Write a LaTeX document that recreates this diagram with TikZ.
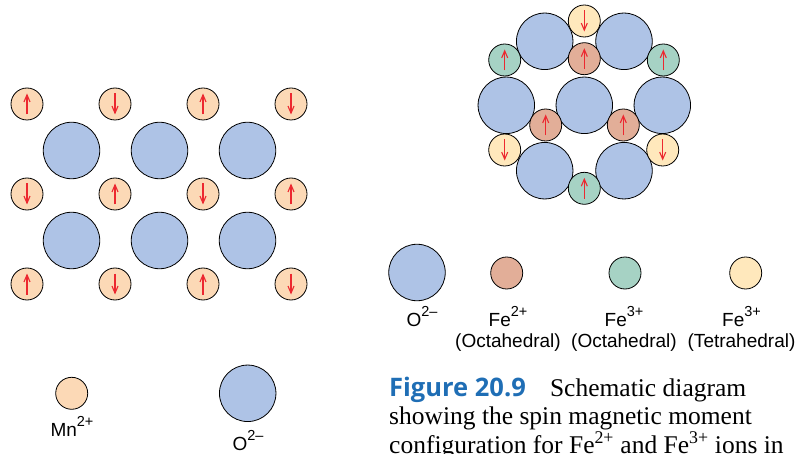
\documentclass[tikz,border=0pt]{standalone}
\usepackage{fontspec}
\setmainfont{Liberation Serif}
\setsansfont{Liberation Sans}
\newfontfamily\figfont{Open Sans}
\usetikzlibrary{arrows.meta,calc}
\definecolor{cox}{HTML}{AEC3E6}
\definecolor{cmn}{HTML}{FCD9B6}
\definecolor{cfeii}{HTML}{E2AE98}
\definecolor{cfeo}{HTML}{A6D2C4}
\definecolor{cfet}{HTML}{FFE8BC}
\definecolor{cspin}{HTML}{EC2830}
\definecolor{cfig}{HTML}{1F6EB5}
\newcommand\chg[1]{\raisebox{9.5pt}{\fontsize{14.5}{14.5}\selectfont #1}}

\begin{document}
\begin{tikzpicture}[x=1pt, y=-1pt,
  ion/.style={circle, draw=black, line width=0.8pt, inner sep=0pt},
  oxy/.style={ion, fill=cox, minimum size=56.5pt},
  mn/.style={ion, fill=cmn, minimum size=32pt},
  feii/.style={ion, fill=cfeii, minimum size=32pt},
  feo/.style={ion, fill=cfeo, minimum size=32pt},
  fet/.style={ion, fill=cfet, minimum size=32pt},
  spin/.style={-{Straight Barb[length=7pt, width=6pt]}, cspin, line width=1.1pt},
  lbl/.style={font=\sffamily\fontsize{19}{21}\selectfont, inner sep=0pt, align=center, anchor=base},
  captext/.style={font=\fontsize{25.5}{28}\selectfont, inner sep=0pt, anchor=base west}
]
\useasboundingbox (0,0) rectangle (797,454);
% MnO lattice
\foreach \i in {0,...,2} \foreach \j in {0,1}
  \node[oxy] (o-\i-\j) at ({71.5+88*\i},{150.5+90*\j}) {};
\foreach \i in {0,...,3} \foreach \j in {0,1,2} {
  \node[mn] (mn-\i-\j) at ({27+88*\i},{104+90*\j}) {};
  \pgfmathsetmacro\spn{1-2*mod(\i+\j,2)}
  \draw[spin] (mn-\i-\j) ++(0,{10.5*\spn}) -- ++(0,{-21*\spn});
}
% key, left
\node[mn] (key-mn) at (71.7,393.3) {};
\node[lbl] (lab-mn) at (72,436) {Mn\chg{2+}};
\node[oxy] (key-ox) at (247.7,393.3) {};
\node[lbl] (lab-ox) at (248,450) {O\chg{2–}};

% Fe3O4 layer
\foreach \x/\y [count=\k] in {544.7/41.3, 624/41.3, 506.3/105.3, 584.3/105.3, 662.3/105.3, 544.7/170.7, 624/170.7}
  \node[oxy] (fo-\k) at (\x,\y) {};
\foreach \x/\y/\spn [count=\k] in {584.3/58.7/1, 545.7/125/1, 623.3/125/1} {
  \node[feii] (feii-\k) at (\x,\y) {};
  \draw[spin] (feii-\k) ++(0,{10.5*\spn}) -- ++(0,{-21*\spn});
}
\foreach \x/\y/\spn [count=\k] in {504.7/60/1, 663.3/60/1, 584.3/188.3/1} {
  \node[feo] (feo-\k) at (\x,\y) {};
  \draw[spin] (feo-\k) ++(0,{10.5*\spn}) -- ++(0,{-21*\spn});
}
\foreach \x/\y/\spn [count=\k] in {584.3/21/-1, 504.7/150/-1, 662.7/150/-1} {
  \node[fet] (fet-\k) at (\x,\y) {};
  \draw[spin] (fet-\k) ++(0,{10.5*\spn}) -- ++(0,{-21*\spn});
}
% key, right
\node[oxy] (key-fo) at (417,272.5) {};
\node[feii] (key-feii) at (506.7,273) {};
\node[feo] (key-feo) at (625,273) {};
\node[fet] (key-fet) at (745.7,273) {};
\node[lbl] (lab-fo) at (422,326) {O\chg{2–}};
\node[lbl] (lab-feii) at (508,347) {Fe\chg{2+}\\(Octahedral)};
\node[lbl] (lab-feo) at (624,347) {Fe\chg{3+}\\(Octahedral)};
\node[lbl] (lab-fet) at (741.5,347) {Fe\chg{3+}\\(Tetrahedral)};

% caption
\node[captext] (cap-1) at (389,396) {{\figfont\bfseries\color{cfig}Figure 20.9}\hspace{0.95em}Schematic diagram};
\node[captext] (cap-2) at (389,424.5) {showing the spin magnetic moment};
\node[captext] (cap-3) at (389,453) {configuration for Fe\textsuperscript{2+} and Fe\textsuperscript{3+} ions in};
\end{tikzpicture}
\end{document}
